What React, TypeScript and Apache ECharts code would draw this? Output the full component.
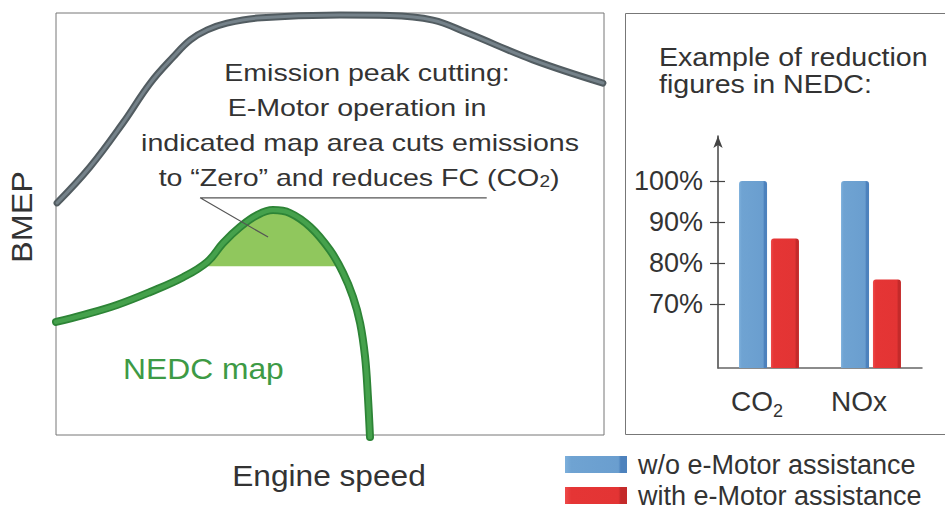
import React, { useEffect, useRef } from 'react';
import * as echarts from 'echarts';

const FONT = '"Liberation Sans", Arial, Helvetica, sans-serif';

// ---- Left panel: engine map (relative engine speed 0-100, relative BMEP 0-100)
const fullLoadCurve: number[][] = [
  [0.2, 55.0], [6.2, 63.5], [12.2, 73.9], [17.2, 83.4], [21.4, 89.6], [24.5, 93.6], [27.6, 96.0],
  [31.2, 97.6], [36.7, 98.8], [51.8, 99.5], [60.9, 99.4], [68.8, 98.3], [75.0, 95.3], [87.0, 88.9], [99.8, 83.4],
];
const nedcCurve: number[][] = [
  [0, 26.8], [4.9, 28.4], [11.1, 30.8], [17.2, 33.9], [23.2, 37.4], [27.6, 41.0], [30.5, 45.5],
  [33.6, 49.3], [36.7, 52.1], [39.6, 53.3], [42.7, 52.6], [46.4, 49.3], [50.0, 43.8], [52.4, 38.4],
  [54.2, 32.7], [55.5, 26.5], [56.4, 18.5], [56.9, 9.5], [57.3, -0.5],
];
const peakCutLevel = 40;
const peakCutArea: number[][] = [
  [26.4, 40], [27.6, 41.0], [30.5, 45.5], [33.6, 49.3], [36.7, 52.1], [39.6, 53.3],
  [42.7, 52.6], [46.4, 49.3], [50.0, 43.8], [51.6, 40],
];
const calloutLine: number[][] = [[78.6, 56.2], [26.3, 56.2], [38.7, 46.9]];

const annotationLines = [
  'Emission peak cutting:',
  'E-Motor operation in',
  'indicated map area cuts emissions',
  'to \u201cZero\u201d and reduces FC (CO{s|2})',
];

// ---- Right panel: reduction figures in NEDC
const categories = ['CO2', 'NOx'];
const seriesNames = ['w/o e-Motor assistance', 'with e-Motor assistance'];
const withoutMotor = [100, 100];
const withMotor = [86, 76];
const tickValues = [70, 80, 90, 100];

export default function App() {
  const ref = useRef<HTMLDivElement>(null);

  useEffect(() => {
    if (!ref.current) return;
    const chart = echarts.init(ref.current, undefined, { renderer: 'svg' });

    const textColor = '#333333';
    const blue = new echarts.graphic.LinearGradient(0, 0, 1, 0, [
      { offset: 0, color: '#7db0dc' },
      { offset: 0.1, color: '#6fa3d2' },
      { offset: 0.86, color: '#6a9ecf' },
      { offset: 0.9, color: '#4d82bd' },
      { offset: 1, color: '#4d82bd' },
    ]);
    const red = new echarts.graphic.LinearGradient(0, 0, 1, 0, [
      { offset: 0, color: '#ee4a4a' },
      { offset: 0.1, color: '#e53535' },
      { offset: 0.86, color: '#e33434' },
      { offset: 0.9, color: '#c42a2a' },
      { offset: 1, color: '#c42a2a' },
    ]);

    const annotationX = [367, 357, 360, 359];
    const annotationY = [73, 108, 143, 178];

    const graphics: any[] = [
      {
        type: 'rect',
        shape: { x: 625.5, y: 13.5, width: 340, height: 421 },
        style: { fill: 'none', stroke: '#777', lineWidth: 1 },
        silent: true,
      },
      ...annotationLines.map((t, i) => ({
        type: 'text',
        x: annotationX[i],
        y: annotationY[i],
        scaleX: 1.19,
        style: {
          text: t,
          fill: textColor,
          font: `24px ${FONT}`,
          align: 'center',
          verticalAlign: 'middle',
          rich: {
            s: { fontSize: 16, fontFamily: FONT, lineHeight: 12, verticalAlign: 'bottom', fill: textColor },
          },
        },
        z: 10,
      })),
      {
        type: 'text',
        x: 22,
        y: 217,
        rotation: Math.PI / 2,
        scaleX: 1.08,
        style: { text: 'BMEP', fill: textColor, font: `30px ${FONT}`, align: 'center', verticalAlign: 'middle' },
      },
      {
        type: 'text',
        x: 329,
        y: 476,
        scaleX: 1.055,
        style: { text: 'Engine speed', fill: textColor, font: `30px ${FONT}`, align: 'center', verticalAlign: 'middle' },
      },
      {
        type: 'text',
        x: 123,
        y: 369,
        scaleX: 1.06,
        style: { text: 'NEDC map', fill: '#3d9a45', font: `30px ${FONT}`, align: 'left', verticalAlign: 'middle' },
      },
      {
        type: 'text',
        x: 659,
        y: 57,
        scaleX: 1.1,
        style: { text: 'Example of reduction', fill: textColor, font: `26px ${FONT}`, align: 'left', verticalAlign: 'middle' },
      },
      {
        type: 'text',
        x: 659,
        y: 84,
        scaleX: 1.1,
        style: { text: 'figures in NEDC:', fill: textColor, font: `26px ${FONT}`, align: 'left', verticalAlign: 'middle' },
      },
    ];

    const option: any = {
      animation: false,
      backgroundColor: '#ffffff',
      textStyle: { fontFamily: FONT },
      grid: [
        { left: 56, top: 13, width: 548, height: 422, show: true, borderColor: '#777', borderWidth: 1, backgroundColor: 'transparent' },
        { left: 718, top: 136, width: 204, height: 232 },
      ],
      xAxis: [
        { type: 'value', gridIndex: 0, min: 0, max: 100, show: false },
        {
          type: 'category',
          gridIndex: 1,
          data: categories,
          axisLine: { lineStyle: { color: '#666', width: 1.5 } },
          axisTick: { show: false },
          axisLabel: {
            margin: 14,
            padding: [0, 24, 0, 0],
            color: textColor,
            formatter: (v: string) => (v === 'CO2' ? '{m|CO}{s|2}' : '{m|' + v + '}'),
            rich: {
              m: { fontSize: 28, lineHeight: 38, fontFamily: FONT, color: textColor },
              s: { fontSize: 18, lineHeight: 14, verticalAlign: 'bottom', fontFamily: FONT, color: textColor },
            },
          },
        },
      ],
      yAxis: [
        { type: 'value', gridIndex: 0, min: 0, max: 100, show: false },
        {
          type: 'value',
          gridIndex: 1,
          min: 54.4,
          max: 111,
          splitLine: { show: false },
          axisLine: {
            show: true,
            symbol: ['none', 'arrow'],
            symbolSize: [7, 12],
            lineStyle: { color: '#444', width: 1.5 },
          },
          axisTick: { show: true, length: 8, customValues: tickValues, lineStyle: { color: '#444', width: 1.2 } },
          axisLabel: {
            margin: 15,
            customValues: tickValues,
            fontSize: 27,
            color: textColor,
            fontFamily: FONT,
            formatter: (v: number) => `${v}%`,
          },
        },
        {
          type: 'value',
          gridIndex: 1,
          min: 54.4,
          max: 111,
          position: 'left',
          splitLine: { show: false },
          axisLine: { show: false },
          axisLabel: { show: false },
          axisTick: { show: true, inside: true, length: 7, customValues: tickValues, lineStyle: { color: '#444', width: 1.2 } },
        },
      ],
      legend: {
        data: seriesNames,
        orient: 'vertical',
        left: 565,
        top: 451,
        width: 380,
        height: 120,
        itemWidth: 62,
        itemHeight: 17,
        itemGap: 4,
        padding: 0,
        icon: 'rect',
        selectedMode: false,
        textStyle: { fontSize: 27, lineHeight: 26, color: textColor, fontFamily: FONT, padding: [0, 0, 0, 6] },
      },
      series: [
        {
          type: 'line',
          name: 'peak-cut area',
          xAxisIndex: 0,
          yAxisIndex: 0,
          data: peakCutArea,
          smooth: 0.4,
          symbol: 'none',
          lineStyle: { width: 0 },
          areaStyle: { color: '#90c75d', origin: peakCutLevel, opacity: 1 },
          z: 1,
          silent: true,
        },
        {
          type: 'line',
          name: 'full-load',
          xAxisIndex: 0,
          yAxisIndex: 0,
          data: fullLoadCurve,
          smooth: 0.4,
          symbol: 'none',
          clip: false,
          lineStyle: { color: '#525c61', width: 7, cap: 'round' },
          z: 2,
          silent: true,
        },
        {
          type: 'line',
          name: 'full-load-hi',
          xAxisIndex: 0,
          yAxisIndex: 0,
          data: fullLoadCurve,
          smooth: 0.4,
          symbol: 'none',
          clip: false,
          lineStyle: { color: '#75828a', width: 3, cap: 'round' },
          z: 3,
          silent: true,
        },
        {
          type: 'line',
          name: 'nedc',
          xAxisIndex: 0,
          yAxisIndex: 0,
          data: nedcCurve,
          smooth: 0.4,
          symbol: 'none',
          clip: false,
          lineStyle: { color: '#2d8436', width: 8, cap: 'round' },
          z: 2,
          silent: true,
        },
        {
          type: 'line',
          name: 'nedc-hi',
          xAxisIndex: 0,
          yAxisIndex: 0,
          data: nedcCurve,
          smooth: 0.4,
          symbol: 'none',
          clip: false,
          lineStyle: { color: '#45a14c', width: 4.5, cap: 'round' },
          z: 3,
          silent: true,
        },
        {
          type: 'line',
          name: 'callout',
          xAxisIndex: 0,
          yAxisIndex: 0,
          data: calloutLine,
          symbol: 'none',
          clip: false,
          lineStyle: { color: '#555', width: 1.2 },
          z: 4,
          silent: true,
        },
        {
          type: 'bar',
          name: seriesNames[0],
          xAxisIndex: 1,
          yAxisIndex: 1,
          data: withoutMotor,
          barWidth: 28,
          barGap: '14%',
          itemStyle: { color: blue, borderRadius: [3, 3, 0, 0] },
        },
        {
          type: 'bar',
          name: seriesNames[1],
          xAxisIndex: 1,
          yAxisIndex: 1,
          data: withMotor,
          barWidth: 28,
          itemStyle: { color: red, borderRadius: [3, 3, 0, 0] },
        },
      ],
      graphic: graphics,
    };

    chart.setOption(option);
    return () => chart.dispose();
  }, []);

  return (
    <div
      ref={ref}
      style={{ position: 'fixed', left: 0, top: 0, width: 945, height: 510, background: '#fff' }}
    />
  );
}
